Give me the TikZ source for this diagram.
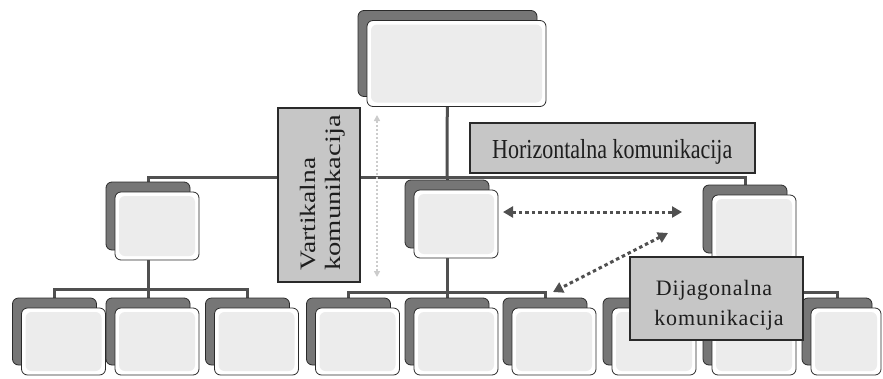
\documentclass[tikz,border=0pt]{standalone}
\usepackage{fontspec}
\setmainfont{Liberation Serif}
\newfontfamily\lblfont[LetterSpace=4]{Liberation Serif}
\usetikzlibrary{arrows.meta,backgrounds}
\definecolor{backfill}{HTML}{767676}
\definecolor{edge}{HTML}{2A2A2A}
\definecolor{facein}{HTML}{ECECEC}
\definecolor{lblfill}{HTML}{C6C6C6}
\definecolor{connc}{HTML}{505050}
\definecolor{txtc}{HTML}{1E1E1E}
\tikzset{
  backbox/.style={draw=edge, line width=0.8pt, fill=backfill, rounded corners=6pt, inner sep=0pt},
  frontbox/.style={draw=edge, line width=0.8pt, fill=white, rounded corners=6pt, inner sep=0pt,
    path picture={\fill[facein] ([shift={(4pt,-4pt)}]path picture bounding box.north west) rectangle ([shift={(-4pt,4pt)}]path picture bounding box.south east);}},
  bigsz/.style={minimum width=179pt, minimum height=86pt},
  midsz/.style={minimum width=84pt, minimum height=68pt},
  smallsz/.style={minimum width=84pt, minimum height=67pt},
  edgesz/.style={minimum width=70pt, minimum height=67pt},
  conn/.style={draw=connc, line width=3pt},
  lblbox/.style={draw=edge, line width=1.2pt, fill=lblfill, inner sep=0pt},
  lbltext/.style={inner sep=0pt, text=txtc, font=\fontsize{22}{30}\selectfont},
  darrow/.style={draw=connc, line width=3pt, dash pattern=on 3.5pt off 3pt,
    {Triangle[length=10pt,width=11pt]}-{Triangle[length=10pt,width=11pt]}},
  larrow/.style={draw=gray!40, line width=1.5pt, dash pattern=on 2pt off 2pt,
    {Triangle[length=6pt,width=6pt]}-{Triangle[length=6pt,width=6pt]}}
}
\newcommand\stk[4]{%
  \node[backbox,#4] (#1-b) at (#2,#3) {};
  \node[frontbox,#4] (#1) at (#2+9,#3+10) {};}
\begin{document}
\begin{tikzpicture}[x=1pt,y=-1pt]
\useasboundingbox (0,0) rectangle (883,378);
% boxes
\stk{top}{447.5}{53.5}{bigsz}
\stk{l2a}{148}{216}{midsz}
\stk{l2b}{447}{214}{midsz}
\stk{l2c}{745}{219}{midsz}
\stk{l3a}{54.5}{331.5}{smallsz}
\stk{l3b}{148}{331.5}{smallsz}
\stk{l3c}{247.5}{331.5}{smallsz}
\stk{l3d}{348.5}{331.5}{smallsz}
\stk{l3e}{447}{331.5}{smallsz}
\stk{l3f}{545}{331.5}{smallsz}
\stk{l3g}{645}{331.5}{smallsz}
\stk{l3h}{745}{331.5}{smallsz}
\stk{l3i}{837}{331.5}{edgesz}
% bus coordinates
\coordinate (b2) at (447,177);
\coordinate (b3a) at (148,289);
\coordinate (b3b) at (447,292);
\coordinate (b3c) at (745,292);
\begin{scope}[on background layer]
  \draw[conn] (top-b.center) -- (b2);
  \draw[conn] (b2) -| (l2a-b.center);
  \draw[conn] (b2) -| (l2c-b.center);
  \draw[conn] (b2) -- (l2b-b.center);
  \draw[conn] (l2a-b.center) -- (b3a);
  \draw[conn] (b3a) -| (l3a-b.center);
  \draw[conn] (b3a) -| (l3c-b.center);
  \draw[conn] (b3a) -- (l3b-b.center);
  \draw[conn] (l2b-b.center) -- (b3b);
  \draw[conn] (b3b) -| (l3d-b.center);
  \draw[conn] (b3b) -| (l3f-b.center);
  \draw[conn] (b3b) -- (l3e-b.center);
  \draw[conn] (l2c-b.center) -- (b3c);
  \draw[conn] (b3c) -| (l3g-b.center);
  \draw[conn] (b3c) -| (l3i-b.center);
  \draw[conn] (b3c) -- (l3h-b.center);
\end{scope}
% vertical label
\node[lblbox, minimum width=82pt, minimum height=174pt] (vlab) at (319,195) {};
\node[lbltext, rotate=90, anchor=base west] (vt1) at (315,271) {\scalebox{1.25}[1]{Vartikalna}};
\node[lbltext, rotate=90, anchor=base west] (vt2) at (340,271) {\scalebox{1.3}[1]{komunikacija}};
\coordinate (va1) at (377,115);
\coordinate (va2) at (377,277);
\draw[larrow] (va1) -- (va2);
% horizontal label
\node[lblbox, minimum width=285pt, minimum height=50pt] (hlab) at (612.5,148) {};
\node[lbltext, anchor=base west] (ht) at (492,158) {\scalebox{1}[1.25]{Horizontalna komunikacija}};
\coordinate (ha1) at (503,212);
\coordinate (ha2) at (682,212);
\draw[darrow] (ha1) -- (ha2);
% diagonal
\coordinate (da1) at (668,233);
\coordinate (da2) at (553,292);
\draw[darrow] (da1) -- (da2);
\node[lblbox, minimum width=173pt, minimum height=83pt] (dlab) at (716.5,298.5) {};
\node[lbltext, anchor=base, font=\lblfont\fontsize{22}{30}\selectfont] (dt1) at (714,295) {Dijagonalna};
\node[lbltext, anchor=base, font=\lblfont\fontsize{22}{30}\selectfont] (dt2) at (719,325) {komunikacija};
\end{tikzpicture}
\end{document}
